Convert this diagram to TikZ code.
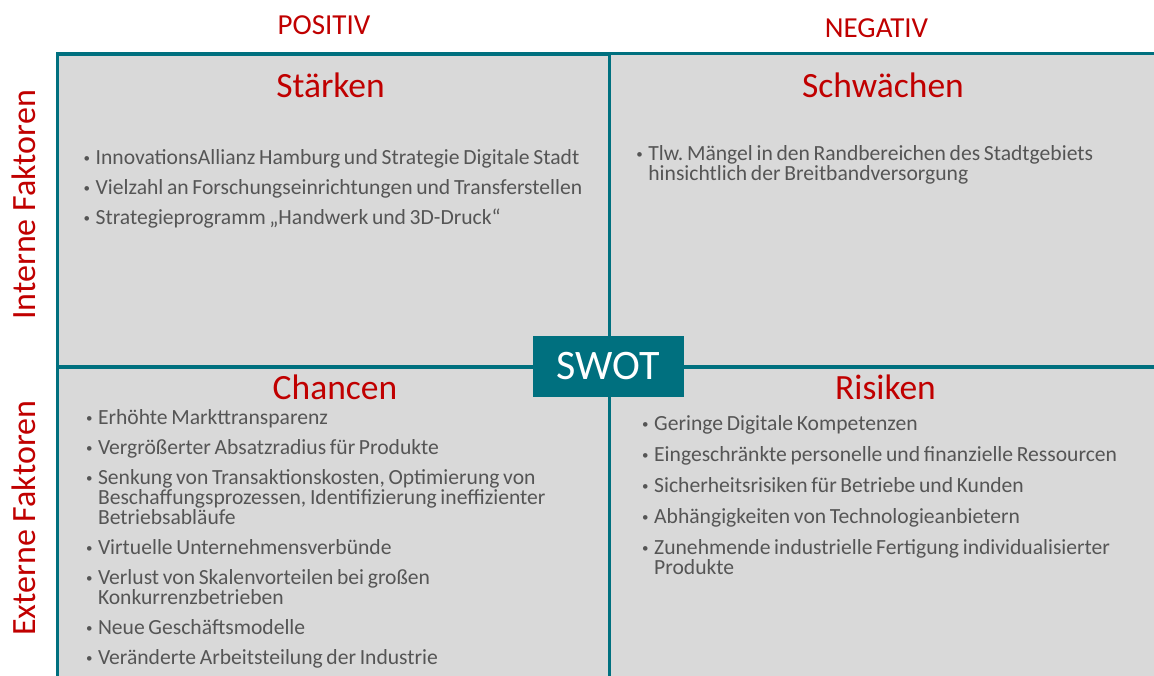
\documentclass[tikz,border=0pt]{standalone}
\usepackage{fontspec}
\setmainfont{Carlito}

\definecolor{swotteal}{HTML}{00707F}
\definecolor{swotred}{HTML}{C00000}
\definecolor{cellgray}{HTML}{D9D9D9}
\definecolor{bodytext}{HTML}{555555}

% one bullet point with hanging indent
\newlength{\bulind}
\setlength{\bulind}{12pt}
\newcommand{\bitem}[1]{\hangindent=\bulind\hangafter=1\noindent\makebox[\bulind][l]{\raisebox{1.5pt}{\fontsize{13}{13}\selectfont\textbullet}}\strut#1\par}

\tikzset{
  cell/.style={fill=cellgray, draw=swotteal, line width=3.5pt},
  axislabel/.style={inner sep=0pt, text=swotred, font=\fontsize{29}{29}\selectfont},
  sidelabel/.style={inner sep=0pt, text=swotred, font=\fontsize{34}{34}\selectfont, rotate=90, anchor=base west},
  celltitle/.style={inner sep=0pt, text=swotred, font=\fontsize{35.5}{35.5}\selectfont, anchor=base},
  bodylist/.style={anchor=north west, inner sep=0pt, text width=#1, align=left,
    font=\fontsize{21.6}{20}\selectfont, text=bodytext,
    execute at begin node={\frenchspacing\setlength{\parskip}{10pt}\setlength{\bulind}{12pt}%
      \lineskiplimit=-30pt\lineskip=0pt%
      \spaceskip=0.17em plus 0.05em minus 0.03em}},
  swotbox/.style={fill=swotteal, draw=none, minimum width=151pt, minimum height=61pt,
    inner sep=0pt, text=white, font=\fontsize{42}{42}\selectfont},
}

\begin{document}
\begin{tikzpicture}[x=1pt, y=-1pt]
  \useasboundingbox (0,0) rectangle (1154,675);

  % four quadrants
  \begin{scope}
    \clip (0,0) rectangle (1154,675);
    \draw[cell] (57.5,54) rectangle (609.5,367);
    \draw[cell] (609.5,53.5) rectangle (1170,367);
    \draw[cell] (57.5,367) rectangle (609.5,700);
    \draw[cell] (609.5,367) rectangle (1170,700);
  \end{scope}

  % column and row headings
  \node[axislabel, anchor=base] (pos) at (324,34.3) {POSITIV};
  \node[axislabel, anchor=base] (neg) at (876.5,37) {NEGATIV};
  \node[sidelabel] (intern) at (35,320) {Interne Faktoren};
  \node[sidelabel] (extern) at (35,636) {Externe Faktoren};

  % quadrant titles
  \node[celltitle] (s) at (330.5,97.5) {Stärken};
  \node[celltitle] (w) at (883,97.5) {Schwächen};
  \node[celltitle] (o) at (335,399.5) {Chancen};
  \node[celltitle] (t) at (885.5,399.5) {Risiken};

  % quadrant contents
  \node[bodylist=520pt] (slist) at (83.5,149) {%
    \bitem{InnovationsAllianz Hamburg und Strategie Digitale Stadt}
    \bitem{Vielzahl an Forschungseinrichtungen und Transferstellen}
    \bitem{Strategieprogramm „Handwerk und 3D-Druck“}};

  \node[bodylist=520pt] (wlist) at (636.2,145) {%
    \bitem{Tlw. Mängel in den Randbereichen des Stadtgebiets\newline hinsichtlich der Breitbandversorgung}};

  \node[bodylist=520pt] (olist) at (85.8,409) {%
    \bitem{Erhöhte Markttransparenz}
    \bitem{Vergrößerter Absatzradius für Produkte}
    \bitem{Senkung von Transaktionskosten, Optimierung von\newline Beschaffungsprozessen, Identifizierung ineffizienter\newline Betriebsabläufe}
    \bitem{Virtuelle Unternehmensverbünde}
    \bitem{Verlust von Skalenvorteilen bei großen\newline Konkurrenzbetrieben}
    \bitem{Neue Geschäftsmodelle}
    \bitem{Veränderte Arbeitsteilung der Industrie}};

  \node[bodylist=500pt, execute at begin node={\setlength{\parskip}{10.5pt}\setlength{\baselineskip}{20.5pt}}] (tlist) at (642,415) {%
    \bitem{Geringe Digitale Kompetenzen}
    \bitem{Eingeschränkte personelle und finanzielle Ressourcen}
    \bitem{Sicherheitsrisiken für Betriebe und Kunden}
    \bitem{Abhängigkeiten von Technologieanbietern}
    \bitem{Zunehmende industrielle Fertigung individualisierter\newline Produkte}};

  % centre label
  \node[swotbox] (swot) at (608.5,366.5) {SWOT};
\end{tikzpicture}
\end{document}
